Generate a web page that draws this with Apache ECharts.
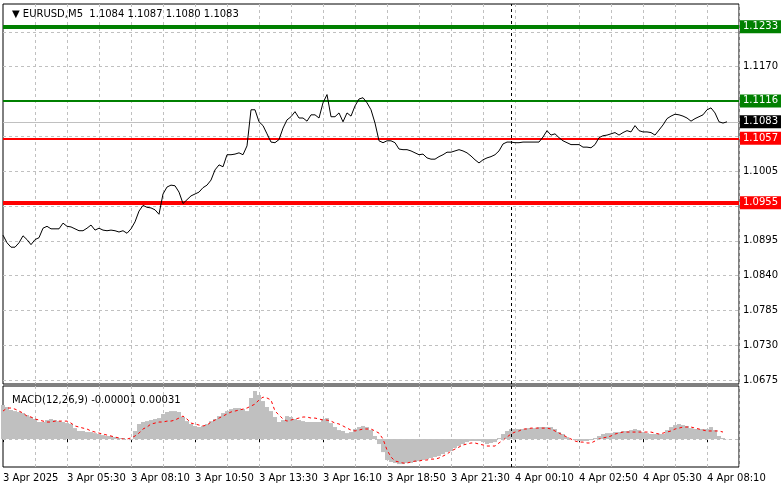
<!DOCTYPE html>
<html><head><meta charset="utf-8">
<script src="https://cdn.jsdelivr.net/npm/echarts@6/dist/echarts.min.js"></script>
<style>html,body{margin:0;padding:0;background:#fff}#c{width:781px;height:489px}</style>
</head><body><div id="c"></div>
<script>
const price = [1.0904,1.0892,1.0885,1.0885,1.0892,1.0903,1.0897,1.0889,1.0897,1.0900,
1.0915,1.0918,1.0914,1.0914,1.0914,1.0923,1.0918,1.0917,1.0914,1.0911,
1.0911,1.0915,1.0920,1.0912,1.0915,1.0912,1.0911,1.0912,1.0911,1.0909,
1.0911,1.0907,1.0914,1.0925,1.0942,1.0951,1.0948,1.0947,1.0944,1.0937,
1.0969,1.0980,1.0983,1.0982,1.0972,1.0954,1.0960,1.0966,1.0969,1.0972,
1.0979,1.0983,1.0991,1.1007,1.1015,1.1012,1.1031,1.1031,1.1032,1.1034,
1.1031,1.1045,1.1102,1.1102,1.1083,1.1077,1.1064,1.1051,1.1050,1.1055,
1.1073,1.1086,1.1091,1.1099,1.1089,1.1089,1.1084,1.1094,1.1094,1.1089,
1.1113,1.1126,1.1091,1.1091,1.1097,1.1083,1.1097,1.1092,1.1108,1.1119,
1.1121,1.1113,1.1102,1.1081,1.1053,1.1050,1.1053,1.1053,1.1050,1.1040,
1.1039,1.1039,1.1037,1.1034,1.1031,1.1032,1.1026,1.1024,1.1024,1.1028,
1.1031,1.1035,1.1035,1.1037,1.1039,1.1037,1.1034,1.1029,1.1023,1.1018,
1.1023,1.1026,1.1028,1.1031,1.1037,1.1048,1.1051,1.1051,1.1050,1.1050,
1.1051,1.1051,1.1051,1.1051,1.1051,1.1059,1.1069,1.1062,1.1064,1.1058,
1.1053,1.1050,1.1047,1.1047,1.1047,1.1043,1.1043,1.1042,1.1047,1.1058,
1.1061,1.1062,1.1064,1.1066,1.1062,1.1066,1.1069,1.1067,1.1077,1.1069,
1.1067,1.1067,1.1066,1.1062,1.1070,1.1078,1.1088,1.1092,1.1095,1.1094,
1.1092,1.1089,1.1084,1.1088,1.1091,1.1094,1.1102,1.1105,1.1097,1.1083,
1.1081,1.1083];
const macd = [224,211,191,184,178,171,158,145,132,112,
112,125,132,125,118,112,105,99,72,53,
53,46,46,39,33,26,20,20,13,7,
7,0,-7,53,99,112,118,125,132,138,
165,178,184,184,178,145,118,99,86,79,
86,99,118,132,151,171,184,197,204,204,
197,184,270,316,290,250,211,184,145,112,
125,151,145,132,125,118,112,112,112,112,
132,138,105,79,59,53,39,46,66,79,
86,79,59,20,-33,-86,-138,-151,-158,-165,
-165,-158,-158,-151,-145,-138,-132,-125,-118,-112,
-99,-86,-79,-59,-46,-33,-20,-13,-13,-13,
-20,-33,-26,-20,7,33,53,66,66,66,
66,72,72,72,79,79,79,79,66,46,
33,13,0,-7,-13,-13,-13,-7,7,20,
33,39,39,46,46,53,53,59,66,59,
46,39,33,33,33,33,59,79,92,99,
92,86,72,66,66,66,66,79,59,20,
7,-1].map(v => v / 100000);
const signal = [184,204,204,197,184,171,151,145,132,125,
118,112,112,118,118,118,118,105,86,79,
72,66,53,46,39,33,26,20,13,7,
0,0,7,20,39,66,79,99,105,112,
112,118,118,125,138,151,132,105,99,92,
86,92,112,125,138,151,165,178,184,191,
197,204,217,230,257,276,270,257,184,158,
132,118,125,132,138,145,145,138,138,132,
125,125,118,105,99,86,72,59,53,59,
66,66,66,53,39,0,-72,-118,-145,-151,
-158,-158,-151,-145,-145,-138,-138,-132,-132,-125,
-112,-99,-79,-66,-53,-39,-33,-26,-26,-33,
-39,-46,-46,-46,-26,-7,13,33,46,53,
66,66,72,72,72,72,72,66,53,39,
26,13,0,-13,-20,-20,-26,-26,-13,0,
7,13,20,33,39,46,46,46,46,46,
46,46,46,39,33,39,46,53,66,72,
79,79,79,72,66,59,53,53,53,53,
46,null].map(v => v == null ? null : v / 100000);
const priceTicks = [1.0675,1.0730,1.0785,1.0840,1.0895,1.0950,1.1005,1.1060,1.1115,1.1170,1.1225];
const hiddenTickLabels = [1.0950,1.1060,1.1115,1.1225];
const levels = [
  {v:1.1233, color:'#008000', w:4},
  {v:1.1116, color:'#008000', w:2},
  {v:1.1057, color:'#ff0000', w:2},
  {v:1.0955, color:'#ff0000', w:4}
];
const lastPrice = 1.1083;
const macdTicks = [0.00283, 0.00, -0.00158];
const nSlots = 185;
const startMin = 2*60+50, stepMin = 10;
const months = 'Apr';
const cats = [];
for (let i = 0; i < nSlots; i++) {
  const t = startMin + i*stepMin;
  const d = 3 + Math.floor(t/1440), m = t % 1440;
  const hh = String(Math.floor(m/60)).padStart(2,'0'), mm = String(m%60).padStart(2,'0');
  cats.push(i === 0 ? '3 Apr 2025' : d + ' ' + months + ' ' + hh + ':' + mm);
}
const daySepIndex = 127;
const FONT = 'DejaVu Sans';

const gridLines = priceTicks.map(v => ({
  yAxis: v,
  lineStyle: {color:'#c0c0c0', type:[3,3], width:1},
  label: {show: !hiddenTickLabels.includes(v), formatter: v.toFixed(4), color:'#000', fontSize:10, fontFamily:FONT, distance:4}
}));
const levelLines = [{
  yAxis: lastPrice,
  lineStyle: {color:'#c0c0c0', type:'solid', width:1},
  label: {show:true, formatter:lastPrice.toFixed(4), color:'#fff', backgroundColor:'#000', padding:[2,3,1,3], fontSize:10, fontFamily:FONT, distance:1}
}].concat(levels.map(l => ({
  yAxis: l.v,
  lineStyle: {color:l.color, type:'solid', width:l.w},
  label: {show:true, formatter:l.v.toFixed(4), color:'#fff', backgroundColor:l.color, padding:[2,3,1,3], fontSize:10, fontFamily:FONT, distance:1}
})));

const chart = echarts.init(document.getElementById('c'), null, {renderer:'canvas'});
chart.setOption({
  animation:false,
  backgroundColor:'#fff',
  textStyle:{fontFamily:FONT},
  title:[
    {text:'▼ EURUSD,M5  1.1084 1.1087 1.1080 1.1083', left:7, top:4, textStyle:{fontSize:10, fontWeight:'normal', color:'#000', fontFamily:FONT}},
    {text:'MACD(12,26,9) -0.00001 0.00031', left:7, top:390, textStyle:{fontSize:10, fontWeight:'normal', color:'#000', fontFamily:FONT}}
  ],
  grid:[
    {left:3, right:42, top:4, bottom:105, show:true, borderColor:'#000', borderWidth:1, backgroundColor:'transparent'},
    {left:3, right:42, top:386, bottom:22, show:true, borderColor:'#000', borderWidth:1, backgroundColor:'transparent'}
  ],
  xAxis:[
    {type:'category', gridIndex:0, data:cats, boundaryGap:false, axisLine:{show:false}, axisTick:{show:false}, axisLabel:{show:false},
     splitLine:{show:true, interval:(i)=> i%8===0 && i>0, lineStyle:{color:'#c0c0c0', type:[3,3]}}},
    {type:'category', gridIndex:1, data:cats, boundaryGap:false, axisLine:{show:false},
     axisTick:{show:true, interval:15, length:3, inside:false, lineStyle:{color:'#000'}},
     axisLabel:{show:true, interval:15, align:'left', color:'#000', fontSize:10, fontFamily:FONT, margin:6},
     splitLine:{show:true, interval:(i)=> i%8===0 && i>0, lineStyle:{color:'#c0c0c0', type:[3,3]}}}
  ],
  yAxis:[
    {type:'value', gridIndex:0, position:'right', min:1.0669, max:1.1269, axisLine:{show:false}, axisTick:{show:false}, axisLabel:{show:false}, splitLine:{show:false}},
    {type:'value', gridIndex:1, position:'right', min:-0.00184, max:0.00349, axisLine:{show:false}, axisTick:{show:false}, axisLabel:{show:false}, splitLine:{show:false}}
  ],
  series:[
    {type:'line', xAxisIndex:0, yAxisIndex:0, data:[], silent:true,
     markLine:{symbol:'none', precision:6, silent:true, data:gridLines, animation:false}},
    {type:'line', xAxisIndex:0, yAxisIndex:0, data:[], silent:true,
     markLine:{symbol:'none', precision:6, silent:true, animation:false,
       data:[{xAxis:daySepIndex, lineStyle:{color:'#000', type:[3,3], width:1}, label:{show:false}}]}},
    {type:'line', xAxisIndex:0, yAxisIndex:0, data:price, symbol:'none', lineStyle:{color:'#000', width:1}, z:5,
     markLine:{symbol:'none', precision:6, silent:true, data:levelLines, animation:false}},
    {type:'bar', xAxisIndex:1, yAxisIndex:1, data:macd, barWidth:4, itemStyle:{color:'#c0c0c0'}, z:2,
     markLine:{symbol:'none', precision:6, silent:true, animation:false, data:[
       {yAxis:0, lineStyle:{color:'#c0c0c0', type:[3,3], width:1}, label:{show:false}},
       {xAxis:daySepIndex, lineStyle:{color:'#000', type:[3,3], width:1}, label:{show:false}}
     ]}},
    {type:'line', xAxisIndex:1, yAxisIndex:1, data:signal, symbol:'none', lineStyle:{color:'#ff0000', width:1, type:[3,3]}, z:4},
    {type:'line', xAxisIndex:1, yAxisIndex:1, data:[], silent:true,
     markLine:{symbol:'none', precision:6, silent:true, animation:false, data: macdTicks.map(v => ({
       yAxis:v, lineStyle:{opacity:0}, label:{show:true, formatter: v===0 ? '0.00' : v.toFixed(5), color:'#000', fontSize:10, fontFamily:FONT, distance:4}
     }))}}
  ]
});
</script></body></html>
